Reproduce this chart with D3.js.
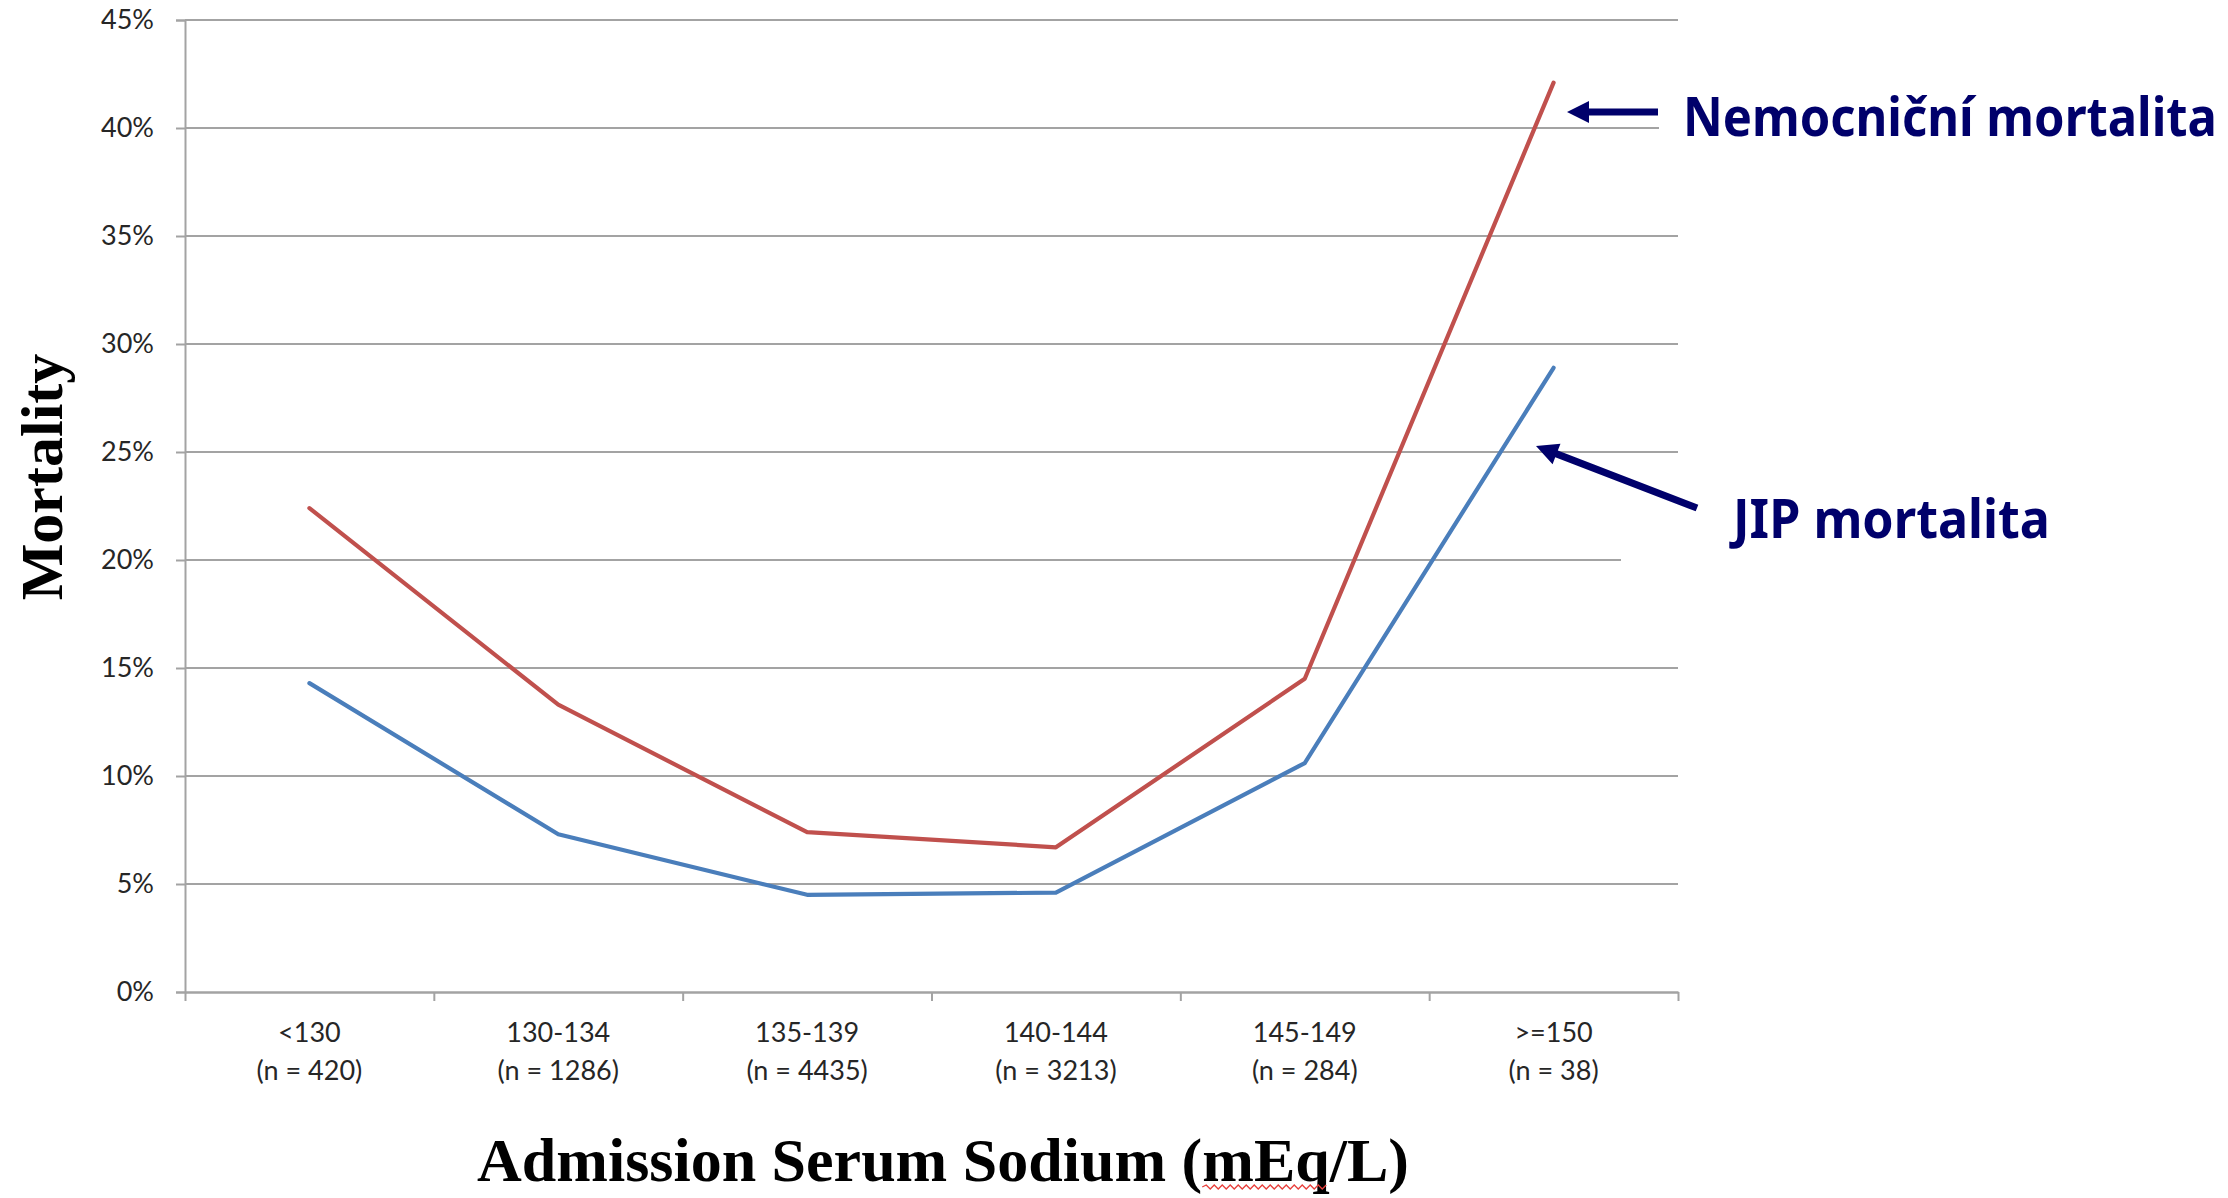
<!DOCTYPE html>
<html>
<head>
<meta charset="utf-8">
<script src="https://cdn.jsdelivr.net/npm/d3@7"></script>
<style>
  html, body { margin: 0; padding: 0; background: #fff; }
  svg { display: block; }
</style>
</head>
<body>
<svg id="chart" width="2228" height="1198"></svg>
<script>
// Sodium bands on admission and their cohort sizes
const categories = ["<130", "130-134", "135-139", "140-144", "145-149", ">=150"];
const sampleSizes = [420, 1286, 4435, 3213, 284, 38];

// Mortality in percent per sodium band
const hospitalMortality = [22.4, 13.3, 7.4, 6.7, 14.5, 42.1]; // Nemocniční
const icuMortality = [14.3, 7.3, 4.5, 4.6, 10.6, 28.9];       // JIP

const yTicks = [0, 5, 10, 15, 20, 25, 30, 35, 40, 45];

const W = 2228, H = 1198;
const margin = { left: 185, top: 20, right: 550, bottom: 206 };
const plotW = W - margin.left - margin.right;
const plotH = H - margin.top - margin.bottom;

const svg = d3.select("#chart");
const g = svg.append("g").attr("transform", `translate(${margin.left},${margin.top})`);

const x = d3.scaleBand().domain(categories).range([0, plotW]);
const xEdges = d3.scaleLinear().domain([0, categories.length]).range([0, plotW]);
const y = d3.scaleLinear().domain([0, 45]).range([plotH, 0]);

const gridColor = "#a3a3a3";
const textColor = "#262626";

// horizontal gridlines
g.append("g")
  .selectAll("line")
  .data(yTicks.filter(t => t > 0))
  .join("line")
  .attr("x1", 0).attr("x2", plotW)
  .attr("y1", d => y(d)).attr("y2", d => y(d))
  .attr("stroke", gridColor).attr("stroke-width", 2);

// y axis with percent labels
const yAxis = g.append("g")
  .call(d3.axisLeft(y).tickValues(yTicks).tickFormat(d => d + "%").tickSize(9).tickPadding(22));
yAxis.select(".domain").attr("stroke", gridColor).attr("stroke-width", 2);
yAxis.selectAll(".tick line").attr("stroke", gridColor).attr("stroke-width", 2);
yAxis.selectAll(".tick text")
  .attr("font-family", "Lato, 'Open Sans', sans-serif")
  .attr("font-size", 27)
  .attr("fill", textColor);

// x axis: ticks at category boundaries
const xAxis = g.append("g")
  .attr("transform", `translate(0,${plotH})`)
  .call(d3.axisBottom(xEdges).tickValues(d3.range(categories.length + 1)).tickFormat("").tickSize(9).tickSizeOuter(0));
xAxis.select(".domain").attr("stroke", gridColor).attr("stroke-width", 2.5);
xAxis.selectAll(".tick line").attr("stroke", gridColor).attr("stroke-width", 2);

// two-line category labels
const xLabels = g.append("g")
  .selectAll("text")
  .data(categories)
  .join("text")
  .attr("x", d => x(d) + x.bandwidth() / 2)
  .attr("y", plotH + 50)
  .attr("text-anchor", "middle")
  .attr("font-family", "Lato, 'Open Sans', sans-serif")
  .attr("font-size", 27)
  .attr("fill", textColor);
xLabels.append("tspan").text(d => d);
xLabels.append("tspan")
  .attr("x", d => x(d) + x.bandwidth() / 2)
  .attr("dy", 38)
  .text((d, i) => `(n = ${sampleSizes[i]})`);

// mortality lines
const line = d3.line()
  .x((d, i) => x(categories[i]) + x.bandwidth() / 2)
  .y(d => y(d));

[
  { values: hospitalMortality, color: "#c0504d" },
  { values: icuMortality, color: "#4a7ebb" }
].forEach(s => {
  g.append("path")
    .datum(s.values)
    .attr("d", line)
    .attr("fill", "none")
    .attr("stroke", s.color)
    .attr("stroke-width", 4.2)
    .attr("stroke-linejoin", "round")
    .attr("stroke-linecap", "round");
});

// axis titles
svg.append("text")
  .attr("transform", "translate(62,477) rotate(-90)")
  .attr("text-anchor", "middle")
  .attr("font-family", "'Liberation Serif', 'Times New Roman', serif")
  .attr("font-weight", "bold")
  .attr("font-size", 60)
  .attr("fill", "#000")
  .text("Mortality");

const xTitle = svg.append("text")
  .attr("x", 943)
  .attr("y", 1181)
  .attr("text-anchor", "middle")
  .attr("font-family", "'Liberation Serif', 'Times New Roman', serif")
  .attr("font-weight", "bold")
  .attr("font-size", 62)
  .attr("fill", "#000");
xTitle.append("tspan").text("Admission Serum Sodium (");
xTitle.append("tspan").text("mEq");
xTitle.append("tspan").text("/L)");

// spell-check squiggle under the unit
(function () {
  const node = xTitle.node();
  const full = node.textContent;
  const start = full.indexOf("mEq");
  const p0 = node.getStartPositionOfChar(start).x;
  const p1 = node.getEndPositionOfChar(start + 2).x;
  const yy = 1187, step = 4;
  let d = `M${p0},${yy}`;
  let up = true;
  for (let px = p0 + step; px <= p1; px += step) {
    d += ` L${px},${yy + (up ? -2 : 2)}`;
    up = !up;
  }
  svg.append("path").attr("d", d).attr("fill", "none").attr("stroke", "#e8403c").attr("stroke-width", 1.3);
})();

// annotation callouts
const navy = "#00006b";

function arrow(x0, y0, x1, y1) {
  const dx = x1 - x0, dy = y1 - y0;
  const len = Math.hypot(dx, dy);
  const ux = dx / len, uy = dy / len;
  const nx = -uy, ny = ux;
  const shaft = 3.6, head = 11, headLen = 22;
  const bx = x1 - ux * headLen, by = y1 - uy * headLen;
  const pts = [
    [x0 + nx * shaft, y0 + ny * shaft],
    [bx + nx * shaft, by + ny * shaft],
    [bx + nx * head, by + ny * head],
    [x1, y1],
    [bx - nx * head, by - ny * head],
    [bx - nx * shaft, by - ny * shaft],
    [x0 - nx * shaft, y0 - ny * shaft]
  ];
  svg.append("polygon").attr("points", pts.map(p => p.join(",")).join(" ")).attr("fill", navy);
}

// condensed bold label: natural glyphs squeezed horizontally to a set width
function calloutLabel(text, x0, baseline, width) {
  const t = svg.append("text")
    .attr("font-family", "'Noto Sans', 'Open Sans', sans-serif")
    .attr("font-weight", "bold")
    .attr("font-size", 54)
    .attr("fill", navy)
    .text(text);
  const natural = t.node().getComputedTextLength();
  t.attr("transform", `translate(${x0},${baseline}) scale(${width / natural},1)`);
}

// text boxes (white fill) for the callouts
svg.append("rect").attr("x", 1659).attr("y", 92).attr("width", 569).attr("height", 70).attr("fill", "#fff");
svg.append("rect").attr("x", 1621).attr("y", 485).attr("width", 607).attr("height", 90).attr("fill", "#fff");

calloutLabel("Nemocniční mortalita", 1683, 136, 534);
calloutLabel("JIP mortalita", 1733, 538, 317);

arrow(1658, 112, 1567, 112);
arrow(1697, 508, 1536, 446);
</script>
</body>
</html>
